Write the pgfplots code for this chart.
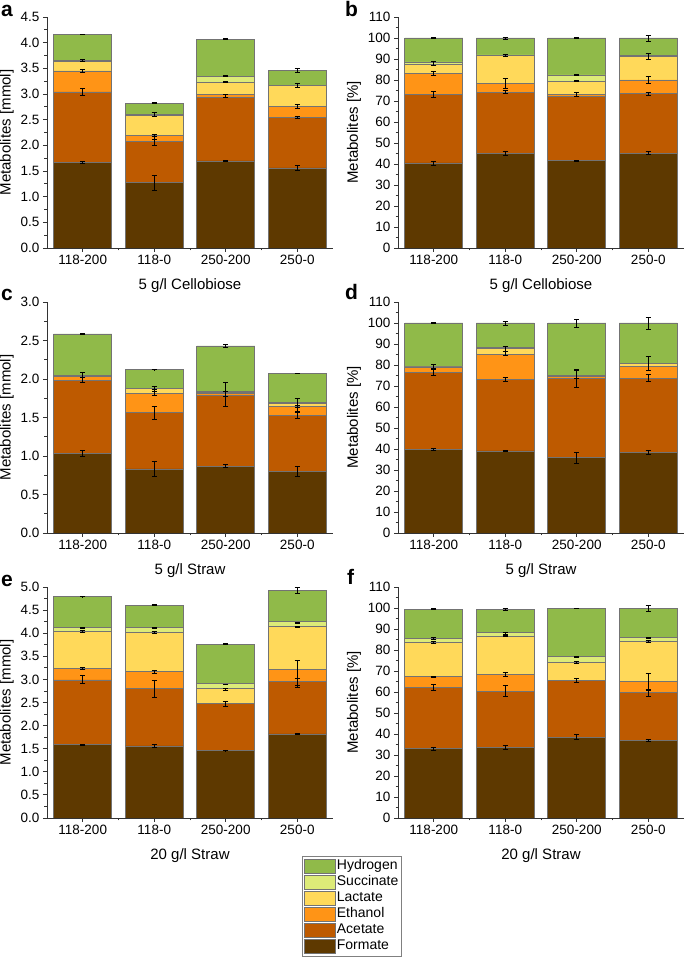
\documentclass[border=0pt]{standalone}
\usepackage{fontspec}
\setmainfont{Liberation Sans}
\usepackage{pgfplots}
\usepackage{pgfplotstable}
\pgfplotsset{compat=1.18}
\definecolor{cF}{HTML}{5E3900}
\definecolor{cA}{HTML}{BE5A00}
\definecolor{cE}{HTML}{FF9416}
\definecolor{cL}{HTML}{FFD95A}
\definecolor{cS}{HTML}{DDEB78}
\definecolor{cH}{HTML}{90BA49}

\pgfplotstableread{
x F A E L S H
0 1.675 1.365 0.41 0.18 0.03 0.50
1 1.27 0.81 0.12 0.385 0.01 0.225
2 1.695 1.245 0.05 0.24 0.12 0.72
3 1.56 0.985 0.215 0.40 0.01 0.29
}\ta
\pgfplotstableread{
x y e
0 1.675 0.02
0 3.04 0.06
0 3.45 0.03
0 3.65 0.02
0 4.16 0.005
1 1.27 0.15
1 2.08 0.09
1 2.17 0.05
1 2.60 0.035
1 2.82 0.01
2 1.695 0.005
2 2.96 0.025
2 3.23 0.005
2 3.35 0.005
2 4.07 0.005
3 1.56 0.04
3 2.54 0.02
3 2.76 0.04
3 3.16 0.04
3 3.45 0.04
}\ea
\pgfplotstableread{
x F A E L S H
0 40.5 32.8 9.9 4.4 1.0 11.4
1 45.2 28.9 4.2 13.4 0.2 8.1
2 41.6 30.6 1.1 6.2 2.9 17.6
3 45.2 28.45 6.35 11.3 0.4 8.3
}\tb
\pgfplotstableread{
x y e
0 40.2 1.0
0 73.0 1.5
0 83.0 1.0
0 88.0 1.0
0 100 0.2
1 45.2 1.0
1 74.2 0.8
1 78.3 2.3
1 91.8 0.5
1 99.9 0.5
2 41.6 0.2
2 73.0 1.0
2 79.5 0.2
2 82.4 0.2
2 100 0.2
3 45.2 0.7
3 73.5 0.7
3 80.0 1.5
3 91.3 1.5
3 99.9 1.5
}\eb
\pgfplotstableread{
x F A E L S H
0 1.036 0.941 0.06 0.008 0.005 0.535
1 0.833 0.729 0.246 0.065 0.004 0.246
2 0.868 0.922 0.018 0.018 0.008 0.596
3 0.80 0.723 0.126 0.03 0.013 0.38
}\tc
\pgfplotstableread{
x y e
0 1.03 0.04
0 1.99 0.03
0 2.05 0.03
0 2.585 0.005
1 0.83 0.10
1 1.56 0.08
1 1.83 0.04
1 1.87 0.03
1 2.123 0.005
2 0.868 0.02
2 1.74 0.10
2 1.86 0.09
2 2.43 0.02
3 0.80 0.07
3 1.53 0.04
3 1.62 0.04
3 1.69 0.06
3 2.072 0.005
}\ec
\pgfplotstableread{
x F A E L S H
0 39.9 36.5 2.3 0.4 0.2 20.7
1 39.1 34.0 11.9 2.8 0.4 11.8
2 35.9 37.7 1.1 0.3 0.2 24.8
3 38.5 35.1 5.7 1.4 0.2 19.1
}\td
\pgfplotstableread{
x y e
0 39.8 0.4
0 76.3 1.5
0 79.3 1.0
0 100 0.2
1 39.0 0.2
1 73.2 1.0
1 85.5 1.0
1 87.5 1.2
1 99.8 1.0
2 35.8 2.5
2 73.3 4.0
2 75.8 2.0
2 99.7 2.0
3 38.4 0.8
3 74.0 1.7
3 80.7 3.2
3 99.8 2.7
}\ed
\pgfplotstableread{
x F A E L S H
0 1.59 1.40 0.247 0.793 0.10 0.66
1 1.56 1.24 0.365 0.86 0.101 0.484
2 1.46 1.018 0.005 0.313 0.109 0.859
3 1.82 1.128 0.262 0.93 0.11 0.68
}\te
\pgfplotstableread{
x y e
0 1.59 0.01
0 3.00 0.09
0 3.23 0.02
0 4.03 0.02
0 4.12 0.01
0 4.79 0.005
1 1.56 0.03
1 2.80 0.18
1 3.165 0.03
1 4.02 0.02
1 4.12 0.01
1 4.61 0.01
2 1.46 0.005
2 2.47 0.05
2 2.78 0.02
2 2.89 0.01
2 3.76 0.01
3 1.82 0.005
3 2.94 0.07
3 3.12 0.29
3 4.13 0.01
3 4.22 0.01
3 4.92 0.06
}\ee
\pgfplotstableread{
x F A E L S H
0 33.1 29.1 5.1 16.3 1.9 13.9
1 33.7 26.6 8.1 17.9 2.0 11.1
2 38.5 27.0 0.1 8.6 2.7 22.9
3 36.9 22.8 5.2 19.0 2.0 13.8
}\tf
\pgfplotstableread{
x y e
0 33.1 0.7
0 62.3 1.5
0 67.3 0.3
0 83.8 0.5
0 85.5 0.5
0 99.4 0.2
1 33.7 1.0
1 60.5 2.6
1 68.3 1.0
1 86.7 0.4
1 88.0 0.5
1 99.3 0.6
2 38.7 1.2
2 65.5 1.0
2 74.1 0.3
2 76.8 0.2
2 99.8 0.2
3 36.9 0.5
3 63.3 5.5
3 61.0 0.3
3 83.9 0.5
3 85.8 0.4
3 99.7 1.5
}\ef

\pgfplotsset{
  /pgf/number format/assume math mode=true,
  panel/.style={scale only axis, width=286pt, height=231pt,
    xmin=-0.5, xmax=3.5, ymin=0, anchor=south west},
  main/.style={panel, ybar stacked, bar width=58pt,
    axis x line*=bottom, axis y line*=left,
    axis line style={-, black!80, line width=0.8pt},
    tick style={black!80, line width=0.8pt},
    tick align=outside, major tick length=4pt, minor tick length=2.5pt,
    xtick={0,1,2,3}, xticklabels={118-200,118-0,250-200,250-0},
    minor x tick num=1, minor y tick num=1,
    tick label style={font=\fontsize{13.5}{16}\selectfont},
    label style={font=\fontsize{15}{18}\selectfont},
    xlabel style={yshift=-7pt},
  },
  ovl/.style={panel, hide axis},
  dec/.style={yticklabel style={/pgf/number format/.cd, fixed, fixed zerofill, precision=1}},
  pct/.style={ymax=110, ytick distance=10, ylabel={Metabolites [\%]}},
  sw/.style={legend image code/.code={\draw[##1] (0pt,-7pt) rectangle (31pt,7pt);}},
  seg/.style={fill=#1, draw=black!55, line width=0.7pt, sw},
}
\newcommand{\bars}[1]{%
  \addplot[seg=cF] table[x=x,y=F]{#1};
  \addplot[seg=cA] table[x=x,y=A]{#1};
  \addplot[seg=cE] table[x=x,y=E]{#1};
  \addplot[seg=cL] table[x=x,y=L]{#1};
  \addplot[seg=cS] table[x=x,y=S]{#1};
  \addplot[seg=cH] table[x=x,y=H]{#1};
}
\newcommand{\errs}[1]{%
  \addplot[draw=none, mark=none, forget plot,
    error bars/.cd, y dir=both, y explicit,
    error bar style={draw=black, solid, line width=0.9pt},
    error mark options={rotate=90, mark size=2.6pt, draw=black, solid, line width=0.9pt}]
    table[x=x, y=y, y error=e]{#1};
}

\begin{document}
\begin{tikzpicture}
\useasboundingbox (0pt,0pt) rectangle (685pt,957pt);
% panel a
\begin{axis}[main, dec, at={(47pt,709pt)}, ymax=4.5, ytick distance=0.5,
  ylabel={Metabolites [mmol]}, xlabel={5 g/l Cellobiose}]
\bars{\ta}
\end{axis}
\begin{axis}[ovl, at={(47pt,709pt)}, ymax=4.5]
\errs{\ea}
\end{axis}
% panel b
\begin{axis}[main, pct, at={(398pt,709pt)}, xlabel={5 g/l Cellobiose}]
\bars{\tb}
\end{axis}
\begin{axis}[ovl, at={(398pt,709pt)}, ymax=110]
\errs{\eb}
\end{axis}
% panel c
\begin{axis}[main, dec, at={(47pt,424pt)}, ymax=3.0, ytick distance=0.5,
  ylabel={Metabolites [mmol]}, xlabel={5 g/l Straw}]
\bars{\tc}
\end{axis}
\begin{axis}[ovl, at={(47pt,424pt)}, ymax=3.0]
\errs{\ec}
\end{axis}
% panel d
\begin{axis}[main, pct, at={(398pt,424pt)}, xlabel={5 g/l Straw}]
\bars{\td}
\end{axis}
\begin{axis}[ovl, at={(398pt,424pt)}, ymax=110]
\errs{\ed}
\end{axis}
% panel e
\begin{axis}[main, dec, at={(47pt,139pt)}, ymax=5.0, ytick distance=0.5,
  ylabel={Metabolites [mmol]}, xlabel={20 g/l Straw},
  reverse legend, legend cell align=left,
  legend style={at={(0.8916,-0.165)}, anchor=north west, draw=black!50,
    font=\fontsize{14}{16}\selectfont, inner sep=2pt, row sep=0.5pt,
    nodes={inner sep=1pt, text height=10.5pt, text depth=3pt},
    /tikz/every even column/.append style={column sep=1pt}}]
\bars{\te}
\legend{Formate,Acetate,Ethanol,Lactate,Succinate\hspace{12pt},Hydrogen}
\end{axis}
\begin{axis}[ovl, at={(47pt,139pt)}, ymax=5.0]
\errs{\ee}
\end{axis}
% panel f
\begin{axis}[main, pct, at={(398pt,139pt)}, xlabel={20 g/l Straw}]
\bars{\tf}
\end{axis}
\begin{axis}[ovl, at={(398pt,139pt)}, ymax=110]
\errs{\ef}
\end{axis}
% panel letters
\node[anchor=base west, font=\fontsize{21}{24}\selectfont\bfseries, inner sep=0pt] at (1pt,940pt) {a};
\node[anchor=base west, font=\fontsize{21}{24}\selectfont\bfseries, inner sep=0pt] at (345pt,940pt) {b};
\node[anchor=base west, font=\fontsize{21}{24}\selectfont\bfseries, inner sep=0pt] at (1pt,656pt) {c};
\node[anchor=base west, font=\fontsize{21}{24}\selectfont\bfseries, inner sep=0pt] at (345pt,657pt) {d};
\node[anchor=base west, font=\fontsize{21}{24}\selectfont\bfseries, inner sep=0pt] at (1pt,370pt) {e};
\node[anchor=base west, font=\fontsize{21}{24}\selectfont\bfseries, inner sep=0pt] at (347pt,372pt) {f};
\end{tikzpicture}
\end{document}
